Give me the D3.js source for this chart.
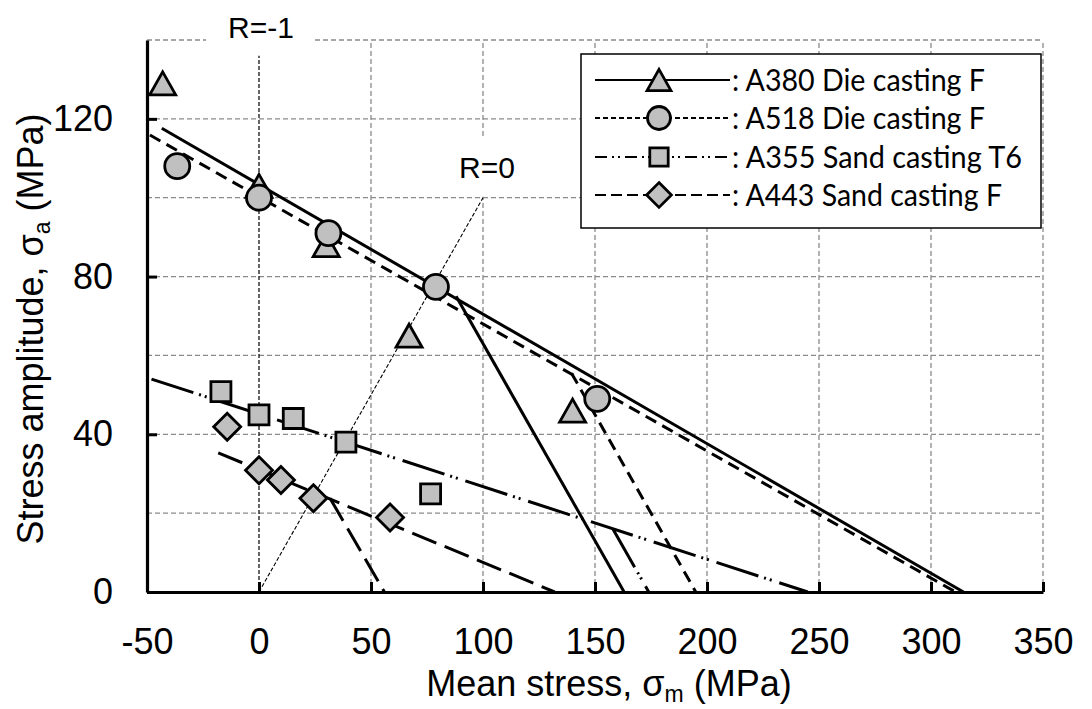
<!DOCTYPE html>
<html>
<head>
<meta charset="utf-8">
<script src="https://cdn.jsdelivr.net/npm/d3@7"></script>
<style>
  body { margin: 0; background: #fff; }
  svg { display: block; }
</style>
</head>
<body>
<svg id="chart"></svg>
<script>
// tick values
const xTicks = [-50, 0, 50, 100, 150, 200, 250, 300, 350];
const yTicks = [0, 40, 80, 120];
const xGrid = [50, 100, 150, 200, 250, 300, 350];
const yGrid = [20, 40, 60, 80, 100, 120, 140];

// legend labels
const seriesNames = [": A380 Die casting F", ": A518 Die casting F", ": A355 Sand casting T6", ": A443 Sand casting F"];

// measured points (mean stress, stress amplitude)
const a380Points = [[-43, 129], [0, 103], [30, 88], [67, 65], [140, 46]];
const a518Points = [[-36.5, 108], [0, 100], [31, 91], [79, 77.4], [151, 49]];
const a355Points = [[-17, 50.8], [0, 44.9], [15.3, 44], [38.8, 38], [76.6, 24.9]];
const a443Points = [[-14.2, 41.9], [0, 30.9], [9.8, 28.4], [24.3, 23.8], [58.5, 18.9]];

// fitted lines, end points
const a380Lines = [[[-43.4, 117.6], [314.5, 0]], [[88, 75], [163, 0]]];
const a518Lines = [[[-48.7, 115.9], [311, 0]], [[139.5, 55.5], [195, 0]]];
const a355Lines = [[[-48, 54], [245, 0]], [[158, 16], [174, 0]]];
const a443Lines = [[[-18.2, 35.3], [132, 0]], [[31.7, 23.8], [56, 0]]];

// stress ratio lines
const rMinus1 = [[0, 0], [0, 136]];
const rZero = [[0, 0], [100, 100]];

const W = 1092, H = 709;
const margin = { top: 40, right: 49, bottom: 117, left: 147 };
const width = W - margin.left - margin.right;
const height = H - margin.top - margin.bottom;

const root = d3.select("#chart").attr("width", W).attr("height", H);
const svg = root.append("g").attr("transform", `translate(${margin.left},${margin.top})`);

const x = d3.scaleLinear().domain([-50, 350]).range([0, width]);
const y = d3.scaleLinear().domain([0, 140]).range([height, 0]);

const line = d3.line().x(d => x(d[0])).y(d => y(d[1]));

// grid
svg.append("g").selectAll("line").data(xGrid).join("line")
  .attr("x1", d => x(d)).attr("x2", d => x(d))
  .attr("y1", y(0)).attr("y2", y(140))
  .attr("stroke", "#8a8a8a").attr("stroke-width", 1.3).attr("stroke-dasharray", "5,3");
svg.append("g").selectAll("line").data(yGrid).join("line")
  .attr("x1", x(-50)).attr("x2", x(350))
  .attr("y1", d => y(d)).attr("y2", d => y(d))
  .attr("stroke", "#8a8a8a").attr("stroke-width", 1.3).attr("stroke-dasharray", "5,3");

// R labels with white boxes
const labelFont = "'Liberation Sans', Arial, sans-serif";
svg.append("rect").attr("x", x(0) - 53).attr("y", -30).attr("width", 109).attr("height", 46).attr("fill", "#fff");
svg.append("rect").attr("x", x(100) - 34).attr("y", y(100) - 61).attr("width", 75).attr("height", 60).attr("fill", "#fff");

svg.append("path").datum(rMinus1).attr("d", line)
  .attr("fill", "none").attr("stroke", "#000").attr("stroke-width", 1.2).attr("stroke-dasharray", "4,2");
svg.append("path").datum(rZero).attr("d", line)
  .attr("fill", "none").attr("stroke", "#000").attr("stroke-width", 1.1).attr("stroke-dasharray", "4,2");

svg.append("text").attr("x", x(0) + 2).attr("y", -2).attr("text-anchor", "middle")
  .style("font", `30px ${labelFont}`).text("R=-1");
svg.append("text").attr("x", x(100) + 4).attr("y", y(100) - 20).attr("text-anchor", "middle")
  .style("font", `30px ${labelFont}`).text("R=0");

// series
const series = [
  { name: seriesNames[0], points: a380Points, lines: a380Lines, dash: null, legendDash: null, shape: "triangle" },
  { name: seriesNames[1], points: a518Points, lines: a518Lines, dash: "12,7", legendDash: "5,3", shape: "circle" },
  { name: seriesNames[2], points: a355Points, lines: a355Lines, dash: "44,6,2,4,2,8", legendDash: "12,5,2,4,2,5", shape: "square" },
  { name: seriesNames[3], points: a443Points, lines: a443Lines, dash: "26,9", legendDash: "11,5", shape: "diamond" }
];

const shapes = {
  triangle: "M0,-11.5L13,11.5L-13,11.5Z",
  circle: d3.symbol().type(d3.symbolCircle).size(Math.PI * 12.5 * 12.5)(),
  square: "M-10,-10H10V10H-10Z",
  diamond: "M0,-13.5L13.5,0L0,13.5L-13.5,0Z"
};

series.forEach(s => {
  svg.append("g").selectAll("path").data(s.lines).join("path")
    .attr("d", line)
    .attr("fill", "none").attr("stroke", "#000").attr("stroke-width", 3)
    .attr("stroke-dasharray", s.dash);
});

series.forEach(s => {
  svg.append("g").selectAll("path").data(s.points).join("path")
    .attr("transform", d => `translate(${x(d[0])},${y(d[1])})`)
    .attr("d", shapes[s.shape])
    .attr("fill", "#c0c0c0").attr("stroke", "#000").attr("stroke-width", 2.8)
    .attr("stroke-linejoin", "miter");
});

// axes
const xAxis = d3.axisBottom(x).tickValues(xTicks).tickFormat(d => String(d))
  .tickSizeInner(-10).tickSizeOuter(0).tickPadding(36);
const yAxis = d3.axisLeft(y).tickValues(yTicks).tickFormat(d => String(d))
  .tickSizeInner(-10).tickSizeOuter(0).tickPadding(34);

const gx = svg.append("g").attr("transform", `translate(0,${height})`).call(xAxis);
const gy = svg.append("g").call(yAxis);
[gx, gy].forEach(g => {
  g.select(".domain").attr("stroke", "#000").attr("stroke-width", 3.2);
  g.selectAll(".tick line").attr("stroke", "#000").attr("stroke-width", 3);
  g.selectAll(".tick text").style("font", `36px ${labelFont}`).attr("fill", "#000");
});

// axis titles
root.append("text").attr("transform", "translate(43,329) rotate(-90)")
  .attr("text-anchor", "middle").style("font", `36px ${labelFont}`)
  .call(t => {
    t.append("tspan").text("Stress amplitude, σ");
    t.append("tspan").attr("dy", 7).style("font-size", "23px").text("a");
    t.append("tspan").attr("dy", -7).text(" (MPa)");
  });
root.append("text").attr("x", 609).attr("y", 696)
  .attr("text-anchor", "middle").style("font", `36px ${labelFont}`)
  .call(t => {
    t.append("tspan").text("Mean stress, σ");
    t.append("tspan").attr("dy", 6).style("font-size", "23px").text("m");
    t.append("tspan").attr("dy", -6).text(" (MPa)");
  });

// legend
const legend = root.append("g");
legend.append("rect").attr("x", 581).attr("y", 54).attr("width", 460).attr("height", 174)
  .attr("fill", "#fff").attr("stroke", "#000").attr("stroke-width", 1.5);
const rowY = [80, 118, 157, 195];
const textWidths = [253, 253, 290, 270];
series.forEach((s, i) => {
  const g = legend.append("g").attr("transform", `translate(0,${rowY[i]})`);
  g.append("line").attr("x1", 595).attr("x2", 730).attr("y1", 0).attr("y2", 0)
    .attr("stroke", "#000").attr("stroke-width", 2).attr("stroke-dasharray", s.legendDash);
  g.append("path").attr("transform", "translate(659,0) scale(0.92)").attr("d", shapes[s.shape])
    .attr("fill", "#c0c0c0").attr("stroke", "#000").attr("stroke-width", 3);
  g.append("text").attr("x", 732).attr("y", 11)
    .attr("textLength", textWidths[i]).attr("lengthAdjust", "spacingAndGlyphs")
    .style("font", "31px Lato, 'Open Sans', sans-serif").text(s.name);
});
</script>
</body>
</html>
